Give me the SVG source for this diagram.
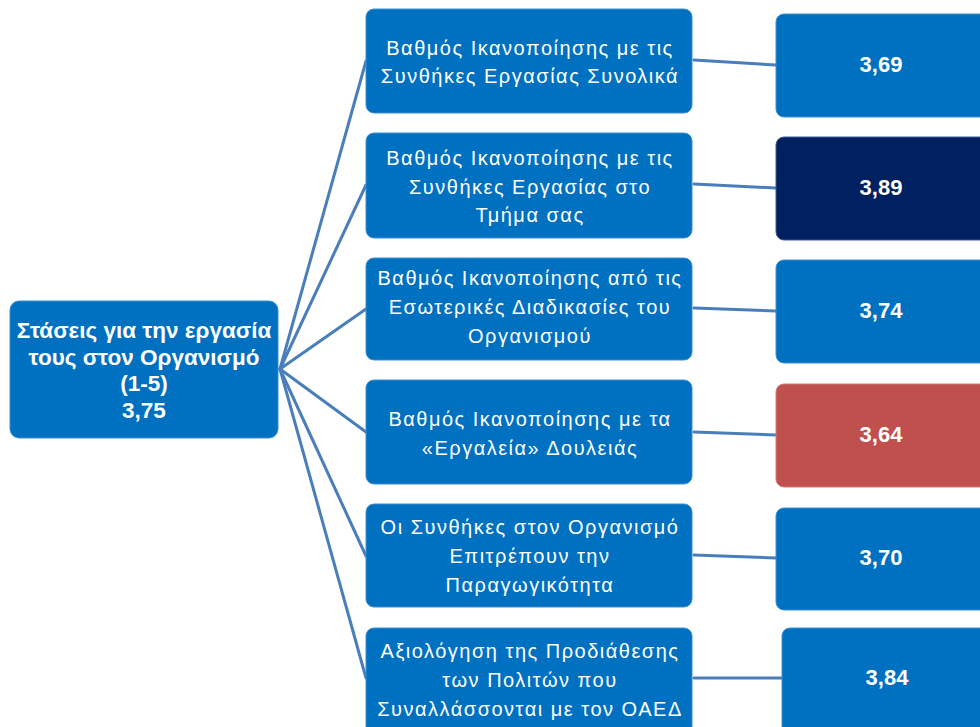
<svg xmlns="http://www.w3.org/2000/svg" width="980" height="727" viewBox="0 0 980 727">
<style>
.box{fill:#0070C0;stroke:#3d8fd1;stroke-width:1}
.navy{fill:#002060;stroke:#3d5a99;stroke-width:1}
.red{fill:#C0504D;stroke:#d07a77;stroke-width:1}
.t{font-family:"Liberation Sans","DejaVu Sans",sans-serif;font-size:20px;letter-spacing:1.5px;fill:#fff;text-anchor:middle}
.b{font-family:"Liberation Sans","DejaVu Sans",sans-serif;font-size:22.5px;font-weight:bold;fill:#fff;text-anchor:middle}
.n{font-family:"Liberation Sans","DejaVu Sans",sans-serif;font-size:22px;font-weight:bold;fill:#fff;text-anchor:middle}
.c{stroke:#4a7ebb;stroke-width:3;fill:none;stroke-linecap:round}
</style>
<rect width="980" height="727" fill="#fff"/>
<g id="connectors">
<line class="c" x1="280" y1="369" x2="366" y2="61"/>
<line class="c" x1="280" y1="369" x2="366" y2="185"/>
<line class="c" x1="280" y1="369" x2="366" y2="309"/>
<line class="c" x1="280" y1="369" x2="366" y2="432"/>
<line class="c" x1="280" y1="369" x2="366" y2="556"/>
<line class="c" x1="280" y1="369" x2="366" y2="678"/>
<line class="c" x1="694" y1="60" x2="776" y2="65"/>
<line class="c" x1="694" y1="184" x2="776" y2="188"/>
<line class="c" x1="694" y1="308" x2="776" y2="311"/>
<line class="c" x1="694" y1="432" x2="776" y2="435"/>
<line class="c" x1="694" y1="555" x2="776" y2="558"/>
<line class="c" x1="694" y1="678" x2="782" y2="678"/>
</g>
<g id="root">
<rect class="box" x="10" y="301" width="268" height="137" rx="9"/>
<text class="b" x="144" y="338">Στάσεις για την εργασία</text>
<text class="b" x="144" y="365">τους στον Οργανισμό</text>
<text class="b" x="144" y="391">(1-5)</text>
<text class="b" x="144" y="418">3,75</text>
</g>
<g id="n1">
<rect class="box" x="366" y="9" width="326" height="104" rx="8"/>
<text class="t" x="530" y="55">Βαθμός Ικανοποίησης με τις</text>
<text class="t" x="530" y="83">Συνθήκες Εργασίας Συνολικά</text>
</g>
<g id="n2">
<rect class="box" x="366" y="133" width="326" height="105" rx="8"/>
<text class="t" x="530" y="165">Βαθμός Ικανοποίησης με τις</text>
<text class="t" x="530" y="194">Συνθήκες Εργασίας στο</text>
<text class="t" x="530" y="222">Τμήμα σας</text>
</g>
<g id="n3">
<rect class="box" x="366" y="258" width="326" height="102" rx="8"/>
<text class="t" x="530" y="285">Βαθμός Ικανοποίησης από τις</text>
<text class="t" x="530" y="314">Εσωτερικές Διαδικασίες του</text>
<text class="t" x="530" y="343">Οργανισμού</text>
</g>
<g id="n4">
<rect class="box" x="366" y="380" width="326" height="104" rx="8"/>
<text class="t" x="530" y="426">Βαθμός Ικανοποίησης με τα</text>
<text class="t" x="530" y="455">«Εργαλεία» Δουλειάς</text>
</g>
<g id="n5">
<rect class="box" x="366" y="504" width="326" height="103" rx="8"/>
<text class="t" x="530" y="534">Οι Συνθήκες στον Οργανισμό</text>
<text class="t" x="530" y="563">Επιτρέπουν την</text>
<text class="t" x="530" y="592">Παραγωγικότητα</text>
</g>
<g id="n6">
<rect class="box" x="366" y="628" width="326" height="110" rx="8"/>
<text class="t" x="530" y="658">Αξιολόγηση της Προδιάθεσης</text>
<text class="t" x="530" y="687">των Πολιτών που</text>
<text class="t" x="530" y="716">Συναλλάσσονται  με τον ΟΑΕΔ</text>
</g>
<g id="v1">
<rect class="box" x="776" y="14" width="215" height="103" rx="8"/>
<text class="n" x="881" y="72">3,69</text>
</g>
<g id="v2">
<rect class="navy" x="776" y="137" width="215" height="103" rx="8"/>
<text class="n" x="881" y="195">3,89</text>
</g>
<g id="v3">
<rect class="box" x="776" y="260" width="215" height="103" rx="8"/>
<text class="n" x="881" y="318">3,74</text>
</g>
<g id="v4">
<rect class="red" x="776" y="384" width="215" height="103" rx="8"/>
<text class="n" x="881" y="442">3,64</text>
</g>
<g id="v5">
<rect class="box" x="776" y="508" width="215" height="102" rx="8"/>
<text class="n" x="881" y="565">3,70</text>
</g>
<g id="v6">
<rect class="box" x="782" y="628" width="215" height="110" rx="8"/>
<text class="n" x="887" y="685">3,84</text>
</g>
</svg>
